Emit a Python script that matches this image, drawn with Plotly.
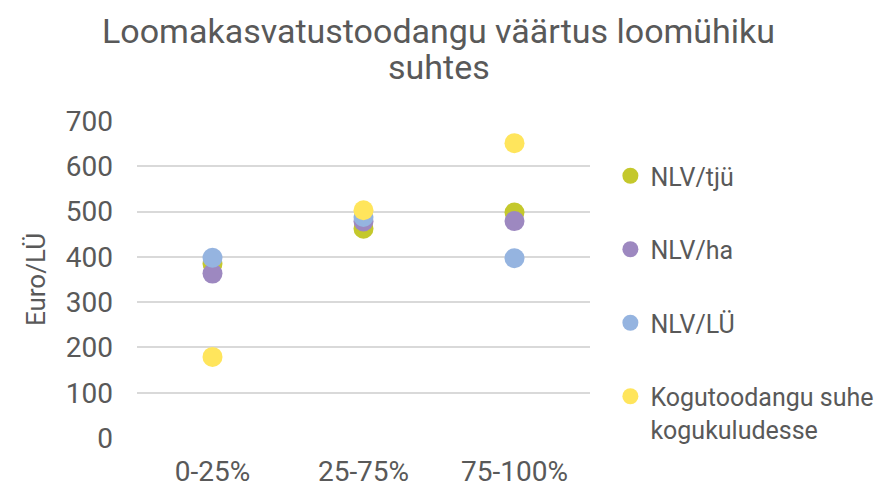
import plotly.graph_objects as go

categories = ["0-25%", "25-75%", "75-100%"]
nlv_tju = [385, 462, 498]
nlv_ha = [363, 478, 479]
nlv_lu = [398, 488, 397]
kogu = [179, 503, 651]
title_lines = ["Loomakasvatustoodangu väärtus loomühiku", "suhtes"]

series = [
    ("NLV/tjü", nlv_tju, "#C4C82C"),
    ("NLV/ha", nlv_ha, "#9D88C0"),
    ("NLV/LÜ", nlv_lu, "#95B4E0"),
    ("Kogutoodangu suhe<br>kogukuludesse", kogu, "#FFE55C"),
]

fig = go.Figure()
for i, (name, vals, col) in enumerate(series):
    fig.add_trace(go.Scatter(
        x=categories, y=vals, mode="markers", name=name,
        legendgroup=str(i),
        marker=dict(size=20, color=col, line=dict(width=0)),
    ))

for txt, yy in zip(title_lines, [1.284, 1.170]):
    fig.add_annotation(text=txt, xref="paper", yref="paper", x=0.6656, y=yy,
                       xanchor="center", yanchor="middle", showarrow=False,
                       font=dict(size=34, color="#595959", family="Roboto"))

fig.update_layout(
    width=886, height=484,
    paper_bgcolor="white", plot_bgcolor="white",
    font=dict(family="Roboto", color="#595959"),
    margin=dict(l=129, r=304, t=113, b=54, autoexpand=False),
    xaxis=dict(type="category", range=[-0.5, 2.5], showgrid=False, showline=False,
               tickfont=dict(size=28, color="#595959"), ticks="",
               ticklabelstandoff=14, automargin=False),
    yaxis=dict(range=[0, 700], dtick=100, showgrid=True, gridcolor="#D9D9D9",
               gridwidth=1.5, zeroline=False, showline=False,
               tickfont=dict(size=28, color="#595959"), ticks="",
               ticklabelstandoff=23, automargin=False,
               title=dict(text="Euro/LÜ", font=dict(size=26, color="#595959"), standoff=12)),
    legend=dict(x=1.045, y=0.899, xanchor="left", yanchor="top",
                font=dict(size=25, color="#595959"), tracegroupgap=38,
                itemwidth=30, valign="top", bgcolor="rgba(0,0,0,0)"),
    showlegend=True,
)

fig.write_html("out.html")
